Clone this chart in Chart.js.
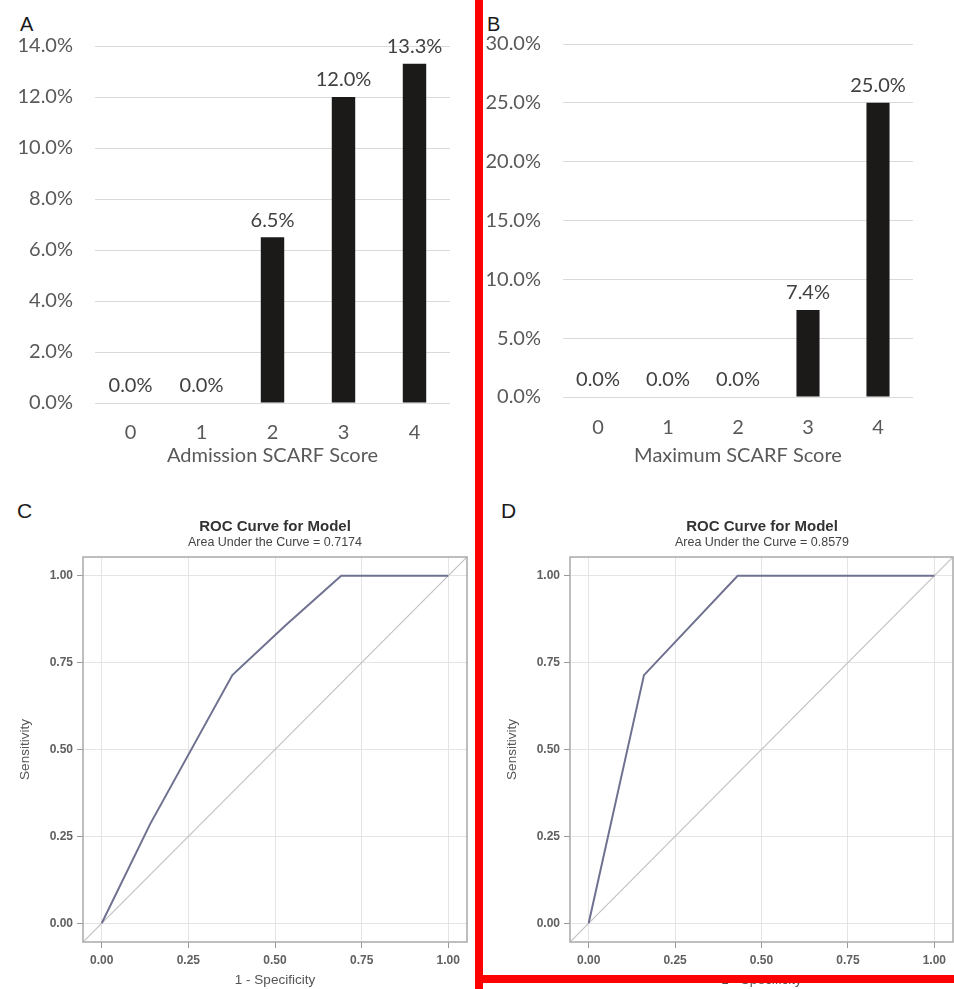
<!DOCTYPE html>
<html lang="en">
<head>
    <meta charset="UTF-8">
    <title>SCARF Score and ROC Curves</title>
    <script src="https://cdn.jsdelivr.net/npm/chart.js"></script>
    <style>
        body { margin: 0; background: #fff; }
        #wrap { position: relative; width: 954px; height: 989px; overflow: hidden; }
        .box { position: absolute; }
        .letter { position: absolute; font-family: "Liberation Sans", Arial, sans-serif; color: #1a1a1a; }
        .roc-title { position: absolute; width: 320px; text-align: center; font-family: "Liberation Sans", Arial, sans-serif; white-space: nowrap; }
        .red { position: absolute; background: #ff0000; z-index: 5; }
    </style>
</head>
<body>
<div id="wrap">
    <div class="letter" style="left:20px; top:14px; font-size:20px; line-height:20px;">A</div>
    <div class="letter" style="left:487px; top:14px; font-size:20px; line-height:20px;">B</div>
    <div class="letter" style="left:17px; top:500px; font-size:21px; line-height:21px;">C</div>
    <div class="letter" style="left:501px; top:500px; font-size:21px; line-height:21px;">D</div>

    <div class="box" style="left:0; top:0;"><canvas id="chartA" width="475" height="475"></canvas></div>
    <div class="box" style="left:477px; top:0;"><canvas id="chartB" width="477" height="475"></canvas></div>
    <div class="box" style="left:0; top:490px;"><canvas id="chartC" width="475" height="499"></canvas></div>
    <div class="box" style="left:477px; top:490px;"><canvas id="chartD" width="477" height="499"></canvas></div>

    <!-- ROC titles -->
    <div class="roc-title" style="left:115px; top:517px; font-size:15px; line-height:18px; font-weight:bold; color:#333;">ROC Curve for Model</div>
    <div class="roc-title" style="left:115px; top:535px; font-size:12.5px; line-height:15px; color:#444;">Area Under the Curve = 0.7174</div>
    <div class="roc-title" style="left:602px; top:517px; font-size:15px; line-height:18px; font-weight:bold; color:#333;">ROC Curve for Model</div>
    <div class="roc-title" style="left:602px; top:535px; font-size:12.5px; line-height:15px; color:#444;">Area Under the Curve = 0.8579</div>

    <!-- red frame around B and D -->
    <div class="red" style="left:475px; top:0; width:8px; height:989px;"></div>
    <div class="red" style="left:475px; top:975px; width:479px; height:8px;"></div>
</div>

<script>
// bar charts (percent)
const barCategories = ['0', '1', '2', '3', '4'];
const admissionPct = [0.0, 0.0, 6.5, 12.0, 13.3];
const maximumPct = [0.0, 0.0, 0.0, 7.4, 25.0];
const admissionTicks = [0, 2, 4, 6, 8, 10, 12, 14];
const maximumTicks = [0, 5, 10, 15, 20, 25, 30];

// ROC curves
const rocTicks = [0, 0.25, 0.5, 0.75, 1];
const admissionFpr = [0, 0.14, 0.377, 0.53, 0.691, 1];
const admissionTpr = [0, 0.286, 0.714, 0.857, 1, 1];
const maximumFpr = [0, 0.16, 0.431, 1];
const maximumTpr = [0, 0.714, 1, 1];
const chanceLine = [-0.054, 1.054];
const rocRange = [-0.054, 1.054];

const barFont = 'Lato';
const sasFont = '"Liberation Sans", Arial, sans-serif';

// draws the % value above each bar
const valueLabels = {
    id: 'valueLabels',
    afterDatasetsDraw(chart) {
        const ctx = chart.ctx;
        const meta = chart.getDatasetMeta(0);
        const values = chart.data.datasets[0].data;
        ctx.save();
        ctx.font = '20px ' + barFont;
        ctx.fillStyle = '#404040';
        ctx.textAlign = 'center';
        ctx.textBaseline = 'middle';
        meta.data.forEach((bar, i) => {
            ctx.fillText(values[i].toFixed(1) + '%', bar.x, bar.y - 17);
        });
        ctx.restore();
    }
};

// grey box round the plot area (SAS style)
const frameBox = {
    id: 'frameBox',
    afterDraw(chart) {
        const a = chart.chartArea;
        const ctx = chart.ctx;
        ctx.save();
        ctx.strokeStyle = '#a9a9a9';
        ctx.lineWidth = 1.5;
        ctx.strokeRect(a.left, a.top, a.right - a.left, a.bottom - a.top);
        ctx.restore();
    }
};

function barChart(id, values, ticks, title, g) {
    return new Chart(document.getElementById(id), {
        type: 'bar',
        data: {
            labels: barCategories,
            datasets: [{
                data: values,
                backgroundColor: '#1c1919',
                borderWidth: 0,
                barPercentage: 0.33,
                categoryPercentage: 1
            }]
        },
        options: {
            responsive: false,
            animation: false,
            layout: { padding: { top: g.top, right: g.right, left: 0, bottom: 0 } },
            plugins: { legend: { display: false }, tooltip: { enabled: false } },
            scales: {
                x: {
                    grid: { display: false, drawTicks: false },
                    border: { display: false },
                    ticks: { color: '#595959', font: { family: barFont, size: 20 }, padding: g.tickPad },
                    title: {
                        display: true,
                        text: title,
                        color: '#595959',
                        font: { family: barFont, size: 20 },
                        padding: { top: 0, bottom: g.titlePad }
                    },
                    afterFit: s => { s.height = g.xHeight; }
                },
                y: {
                    min: ticks[0],
                    max: ticks[ticks.length - 1],
                    afterBuildTicks: s => { s.ticks = ticks.map(v => ({ value: v })); },
                    ticks: {
                        color: '#595959',
                        font: { family: barFont, size: 20 },
                        padding: 22,
                        callback: v => v.toFixed(1) + '%'
                    },
                    grid: { color: '#dadada', lineWidth: 1, drawTicks: false },
                    border: { display: false },
                    afterFit: s => { s.width = g.yWidth; }
                }
            }
        },
        plugins: [valueLabels]
    });
}

function rocChart(id, fpr, tpr, g) {
    const axisFont = { family: sasFont, size: 12, weight: 'bold' };
    const titleFont = { family: sasFont, size: 13.5 };
    return new Chart(document.getElementById(id), {
        type: 'scatter',
        data: {
            datasets: [
                {
                    data: fpr.map((x, i) => ({ x: x, y: tpr[i] })),
                    showLine: true,
                    borderColor: '#6f7190',
                    borderWidth: 2,
                    pointRadius: 0,
                    order: 0
                },
                {
                    data: chanceLine.map(v => ({ x: v, y: v })),
                    showLine: true,
                    borderColor: '#c2c2c2',
                    borderWidth: 1.2,
                    pointRadius: 0,
                    order: 1
                }
            ]
        },
        options: {
            responsive: false,
            animation: false,
            layout: { padding: { top: g.top, right: g.right, left: 0, bottom: 0 } },
            plugins: { legend: { display: false }, tooltip: { enabled: false } },
            scales: {
                x: {
                    type: 'linear',
                    min: rocRange[0],
                    max: rocRange[1],
                    afterBuildTicks: s => { s.ticks = rocTicks.map(v => ({ value: v })); },
                    ticks: { color: '#606060', font: axisFont, padding: 5, maxRotation: 0, autoSkip: false, callback: v => v.toFixed(2) },
                    grid: { color: '#e4e4e4', tickColor: '#999', tickLength: 6 },
                    border: { display: false },
                    title: { display: true, text: '1 - Specificity', color: '#555', font: titleFont, padding: { top: 0, bottom: 1 } },
                    afterFit: s => { s.height = g.xHeight; }
                },
                y: {
                    type: 'linear',
                    min: rocRange[0],
                    max: rocRange[1],
                    afterBuildTicks: s => { s.ticks = rocTicks.map(v => ({ value: v })); },
                    ticks: { color: '#606060', font: axisFont, padding: 4, autoSkip: false, callback: v => v.toFixed(2) },
                    grid: { color: '#e4e4e4', tickColor: '#999', tickLength: 6 },
                    border: { display: false },
                    title: { display: true, text: 'Sensitivity', color: '#555', font: titleFont, padding: { top: g.yTitlePad, bottom: 0 } },
                    afterFit: s => { s.width = g.yWidth; }
                }
            }
        },
        plugins: [frameBox]
    });
}

barChart('chartA', admissionPct, admissionTicks, 'Admission SCARF Score',
    { top: 46, right: 25, yWidth: 95, xHeight: 72, tickPad: 18, titlePad: 7 });
barChart('chartB', maximumPct, maximumTicks, 'Maximum SCARF Score',
    { top: 44, right: 41, yWidth: 86, xHeight: 78, tickPad: 19, titlePad: 7 });
rocChart('chartC', admissionFpr, admissionTpr,
    { top: 67, right: 8, yWidth: 83, xHeight: 47, yTitlePad: 17 });
rocChart('chartD', maximumFpr, maximumTpr,
    { top: 67, right: 1, yWidth: 93, xHeight: 47, yTitlePad: 27 });
</script>
</body>
</html>
